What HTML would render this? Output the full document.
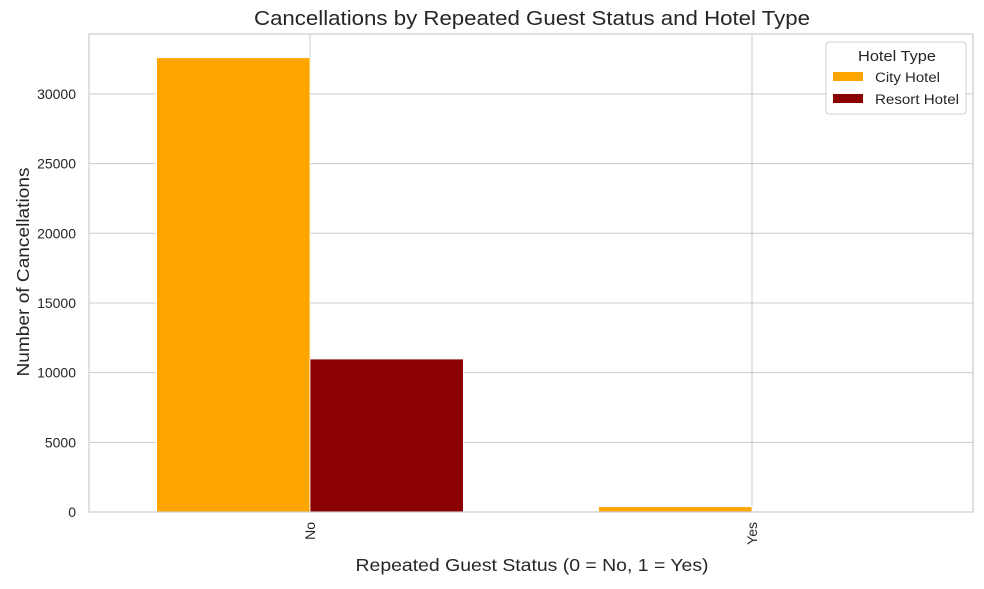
<!DOCTYPE html>
<html><head><meta charset="utf-8"><style>
body{margin:0;background:#fff;}
svg{font-family:"Liberation Sans","DejaVu Sans",sans-serif;}
</style></head><body>
<svg id="chart" width="984" height="584" viewBox="0 0 984 584">
<rect x="0" y="0" width="984" height="584" fill="#fff"/>
<text x="532" y="25" text-anchor="middle" font-size="20" textLength="556" lengthAdjust="spacingAndGlyphs" fill="#262626">Cancellations by Repeated Guest Status and Hotel Type</text>
<g id="grid"></g>
<g id="bars"></g>
<g id="axes"></g>
<text x="532" y="571" text-anchor="middle" font-size="17.5" textLength="353" lengthAdjust="spacingAndGlyphs" fill="#262626">Repeated Guest Status (0 = No, 1 = Yes)</text>
<text transform="translate(29,272) rotate(-90)" text-anchor="middle" font-size="17.5" textLength="209" lengthAdjust="spacingAndGlyphs" fill="#262626">Number of Cancellations</text>
<g>
<rect x="826" y="42" width="140" height="72" rx="3" fill="#fff" stroke="#d0d0d0"/>
<text x="897" y="61" text-anchor="middle" font-size="15" textLength="78" lengthAdjust="spacingAndGlyphs" fill="#262626">Hotel Type</text>
<g><rect x="833" y="72" width="30" height="9" fill="#FFA500"/><text x="875" y="82" font-size="13.5" textLength="65" lengthAdjust="spacingAndGlyphs" fill="#262626">City Hotel</text></g>
<g><rect x="833" y="94" width="30" height="9" fill="#8B0000"/><text x="875" y="104" font-size="13.5" textLength="84" lengthAdjust="spacingAndGlyphs" fill="#262626">Resort Hotel</text></g>
</g>
</svg>
<script>
const categories=["No","Yes"];
const cityValues=[32600,380];
const resortValues=[10980,40];
const yTicks=[0,5000,10000,15000,20000,25000,30000];
const L=89,R=973,T=34,B=512;
const yMax=34300;
const y=v=>B-(v/yMax)*(B-T);
const band=(R-L)/categories.length;
const cx=i=>L+band*(i+0.5);
const bw=band*0.347;
const NS="http://www.w3.org/2000/svg";
function mk(tag,attrs,parent){const e=document.createElementNS(NS,tag);for(const k in attrs)e.setAttribute(k,attrs[k]);document.getElementById(parent).appendChild(e);return e;}
yTicks.forEach(t=>{
 const g=mk("line",{x1:L,x2:R,y1:y(t),y2:y(t),stroke:"#cccccc","stroke-width":1},"grid");
 
 
 const tx=mk("text",{x:L-13,y:y(t)+5,"text-anchor":"end","font-size":14,fill:"#262626"},"axes");
 tx.textContent=t;
 
 
});
categories.forEach((c,i)=>{
 const g=mk("line",{x1:cx(i),x2:cx(i),y1:T,y2:B,stroke:"#cccccc","stroke-width":1},"grid");
 
 
 const a=mk("rect",{x:cx(i)-bw,y:y(cityValues[i]),width:bw,height:B-y(cityValues[i]),fill:"#FFA500",stroke:"#fff","stroke-width":0.8},"bars");
 
 
 const b=mk("rect",{x:cx(i),y:y(resortValues[i]),width:bw,height:B-y(resortValues[i]),fill:"#8B0000",stroke:"#fff","stroke-width":0.8},"bars");
 
 
 const tx=mk("text",{transform:`translate(${cx(i)+5},${B+10}) rotate(-90)`,"text-anchor":"end","font-size":14,fill:"#262626"},"axes");
 tx.textContent=c;
 
 
});
const fr=mk("rect",{x:L,y:T,width:R-L,height:B-T,fill:"none",stroke:"#cccccc","stroke-width":1.2},"axes");


</script>
</body></html>
